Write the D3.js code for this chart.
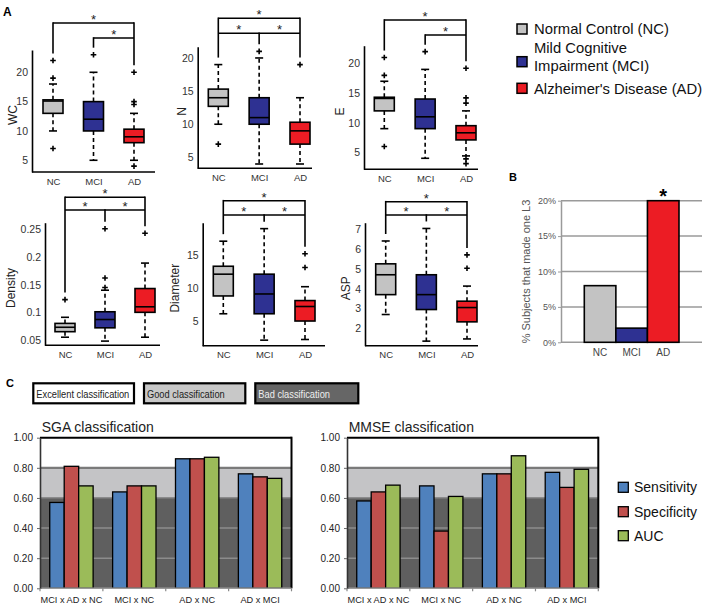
<!DOCTYPE html>
<html><head><meta charset="utf-8">
<script src="https://cdn.jsdelivr.net/npm/d3@7"></script>
<style>
html,body{margin:0;padding:0;background:#fff;}
svg{display:block;}
</style></head><body>
<svg id="chart" width="708" height="605"></svg>
<script>
// ---------------- DATA ----------------
const groups = ["NC", "MCI", "AD"];
const legendLines = [["Normal Control (NC)"], ["Mild Cognitive", "Impairment (MCI)"], ["Alzheimer's Disease (AD)"]];

const wcBoxes = [
  {q1: 13, median: 15.1, q3: 15.3, low: 10, high: 18, outliers: [22, 19, 7]},
  {q1: 10, median: 12, q3: 15, low: 5, high: 20, outliers: [23]},
  {q1: 8, median: 9, q3: 10.3, low: 5, high: 13, outliers: [20, 15, 14.5, 4]}
];
const nBoxes = [
  {q1: 12.7, median: 14, q3: 15.3, low: 10, high: 19, outliers: [7]},
  {q1: 10, median: 11, q3: 14, low: 4, high: 20, outliers: [21]},
  {q1: 7, median: 9, q3: 10.3, low: 4, high: 14, outliers: [19]}
];
const eBoxes = [
  {q1: 12, median: 14.1, q3: 14.3, low: 9, high: 17, outliers: [21, 18, 6]},
  {q1: 9, median: 11, q3: 14, low: 4, high: 19, outliers: [22]},
  {q1: 7.1, median: 8.3, q3: 9.5, low: 4.4, high: 12, outliers: [19.2, 14.2, 13.3, 3.9, 3.1]}
];
const densityBoxes = [
  {q1: 0.065, median: 0.073, q3: 0.08, low: 0.055, high: 0.091, outliers: [0.123]},
  {q1: 0.072, median: 0.087, q3: 0.101, low: 0.048, high: 0.14, outliers: [0.251, 0.162, 0.145]},
  {q1: 0.1, median: 0.11, q3: 0.143, low: 0.055, high: 0.189, outliers: [0.243]}
];
const diameterBoxes = [
  {q1: 8.8, median: 12.1, q3: 13.3, low: 6.1, high: 17.1, outliers: []},
  {q1: 6.1, median: 9.1, q3: 12.1, low: 2.1, high: 19, outliers: []},
  {q1: 5, median: 7.2, q3: 8.1, low: 2.2, high: 10.2, outliers: [15.2, 13.1]}
];
const aspBoxes = [
  {q1: 3.7, median: 4.7, q3: 5.25, low: 2.7, high: 6.4, outliers: []},
  {q1: 2.95, median: 3.7, q3: 4.7, low: 1.36, high: 7.03, outliers: []},
  {q1: 2.33, median: 3.05, q3: 3.37, low: 1.47, high: 4.13, outliers: [5.03, 5.7]}
];
const wcTicks = [5, 10, 15, 20];
const nTicks = [5, 10, 15, 20];
const eTicks = [5, 10, 15, 20];
const densityTicks = [0.05, 0.1, 0.15, 0.2, 0.25];
const diameterTicks = [5, 10, 15];
const aspTicks = [2, 3, 4, 5, 6, 7];

// significance brackets (group index pairs, bracket row)
const sigTwo = [{a: 0, b: 2, row: 0}, {a: 1, b: 2, row: 1}];
const sigThree = [{a: 0, b: 2, row: 0}, {a: 0, b: 1, row: 1}, {a: 1, b: 2, row: 1}];

const l3Percent = [0.08, 0.02, 0.20];
const l3Ticks = [0, 0.05, 0.10, 0.15, 0.20];

const comparisons = ["MCI x AD x NC", "MCI x NC", "AD x NC", "AD x MCI"];
const metrics = ["Sensitivity", "Specificity", "AUC"];
const sgaSensitivity = [0.57, 0.64, 0.86, 0.76];
const sgaSpecificity = [0.81, 0.68, 0.86, 0.74];
const sgaAUC = [0.68, 0.68, 0.87, 0.73];
const mmseSensitivity = [0.58, 0.68, 0.76, 0.77];
const mmseSpecificity = [0.64, 0.38, 0.76, 0.67];
const mmseAUC = [0.685, 0.61, 0.88, 0.79];
const classTicks = [0, 0.2, 0.4, 0.6, 0.8, 1.0];
const qualityLabels = ["Excellent classification", "Good classification", "Bad classification"];
const qualityFrom = [0.8, 0.6, 0];
const qualityTo = [1.0, 0.8, 0.6];

// ---------------- STYLE ----------------
const FONT = '"Liberation Sans", Arial, Helvetica, sans-serif';
const groupColors = ["#c3c3c3", "#2e3192", "#ec1c24"];
const metricColors = ["#4f81bd", "#c0504d", "#9bbb59"];
const qualityColors = ["#ffffff", "#c4c4c6", "#5f5f5f"];

const svg = d3.select("#chart").attr("font-family", FONT);

// panel letters
svg.append("text").attr("x", 3).attr("y", 16).attr("font-size", 12).attr("font-weight", "bold").text("A");
svg.append("text").attr("x", 509).attr("y", 181).attr("font-size", 11).attr("font-weight", "bold").text("B");
svg.append("text").attr("x", 6).attr("y", 387).attr("font-size", 11).attr("font-weight", "bold").text("C");

// ---------------- PANEL A: box plots ----------------
const boxLayouts = [
  {data: wcBoxes, ticks: wcTicks, label: "WC", sig: sigTwo, axisX: 32, xEnd: 155, yTop: 50, yBottom: 172, domain: [3.0, 23.8], cat: [53, 134], labelX: 13, rows: [23, 38]},
  {data: nBoxes, ticks: nTicks, label: "N", sig: sigThree, axisX: 197.7, xEnd: 312, yTop: 46.7, yBottom: 168.3, domain: [3.35, 21.7], cat: [218.3, 300], labelX: 182, rows: [18.3, 33.3]},
  {data: eBoxes, ticks: eTicks, label: "E", sig: sigTwo, axisX: 364, xEnd: 478, yTop: 45.7, yBottom: 169.3, domain: [2.14, 23], cat: [384.3, 466], labelX: 340, rows: [20, 35]},
  {data: densityBoxes, ticks: densityTicks, label: "Density", sig: sigThree, axisX: 45, xEnd: 160, yTop: 222.7, yBottom: 345.3, domain: [0.0404, 0.262], cat: [65, 145], labelX: 11, rows: [197.3, 210]},
  {data: diameterBoxes, ticks: diameterTicks, label: "Diameter", sig: sigThree, axisX: 202.7, xEnd: 325, yTop: 222.7, yBottom: 345.7, domain: [1.26, 19.9], cat: [223.3, 305], labelX: 175, rows: [200.7, 215]},
  {data: aspBoxes, ticks: aspTicks, label: "ASP", sig: sigThree, axisX: 365, xEnd: 478, yTop: 222.7, yBottom: 345.7, domain: [1.13, 7.32], cat: [385.7, 467], labelX: 346, rows: [201.7, 215]}
];

boxLayouts.forEach(cfg => {
  const g = svg.append("g");
  const y = d3.scaleLinear().domain(cfg.domain).range([cfg.yBottom, cfg.yTop]);
  const x = d3.scalePoint().domain(groups).range(cfg.cat);

  const ya = g.append("g").attr("transform", `translate(${cfg.axisX},0)`)
    .call(d3.axisLeft(y).tickValues(cfg.ticks).tickSize(0).tickSizeOuter(0).tickPadding(4).tickFormat(d => String(d)));
  ya.attr("font-family", FONT).attr("font-size", 10.5);
  ya.select(".domain").attr("stroke", "#000").attr("stroke-width", 1.6);
  ya.selectAll("text").attr("fill", "#333");

  const xa = g.append("g").attr("transform", `translate(0,${cfg.yBottom})`)
    .call(d3.axisBottom(x).tickSize(0).tickPadding(6));
  xa.attr("font-family", FONT).attr("font-size", 9.5);
  xa.select(".domain").remove();
  xa.selectAll("text").attr("fill", "#333");
  g.append("line").attr("x1", cfg.axisX).attr("x2", cfg.xEnd).attr("y1", cfg.yBottom).attr("y2", cfg.yBottom)
    .attr("stroke", "#000").attr("stroke-width", 1.6);

  g.append("text").attr("transform", `translate(${cfg.labelX},${(cfg.yTop + cfg.yBottom) / 2 + 4}) rotate(-90)`)
    .attr("text-anchor", "middle").attr("dominant-baseline", "central").attr("font-size", 12).attr("fill", "#222").text(cfg.label);

  cfg.data.forEach((d, i) => {
    const cx = x(groups[i]);
    g.append("line").attr("x1", cx).attr("x2", cx).attr("y1", y(d.q3)).attr("y2", y(d.high))
      .attr("stroke", "#000").attr("stroke-width", 1.6).attr("stroke-dasharray", "4,3");
    g.append("line").attr("x1", cx).attr("x2", cx).attr("y1", y(d.q1)).attr("y2", y(d.low))
      .attr("stroke", "#000").attr("stroke-width", 1.6).attr("stroke-dasharray", "4,3");
    [d.high, d.low].forEach(v => {
      g.append("line").attr("x1", cx - 4).attr("x2", cx + 4).attr("y1", y(v)).attr("y2", y(v))
        .attr("stroke", "#000").attr("stroke-width", 1.6);
    });
    g.append("rect").attr("x", cx - 10).attr("width", 20).attr("y", y(d.q3)).attr("height", y(d.q1) - y(d.q3))
      .attr("fill", groupColors[i]).attr("stroke", "#000").attr("stroke-width", 1.6);
    g.append("line").attr("x1", cx - 10).attr("x2", cx + 10).attr("y1", y(d.median)).attr("y2", y(d.median))
      .attr("stroke", "#000").attr("stroke-width", 1.6);
    d.outliers.forEach(v => {
      const yy = y(v);
      g.append("path").attr("d", `M${cx - 2.8},${yy}H${cx + 2.8}M${cx},${yy - 2.8}V${yy + 2.8}`)
        .attr("stroke", "#000").attr("stroke-width", 1.6);
    });
  });

  const colTop = cfg.data.map(d => y(d3.max([d.high, d.q3].concat(d.outliers))) - 7);
  const legStart = [Infinity, Infinity, Infinity];
  cfg.sig.forEach(s => {
    const ly = cfg.rows[s.row];
    g.append("line").attr("x1", x(groups[s.a])).attr("x2", x(groups[s.b])).attr("y1", ly).attr("y2", ly)
      .attr("stroke", "#000").attr("stroke-width", 1.6);
    g.append("text").attr("x", (x(groups[s.a]) + x(groups[s.b])) / 2).attr("y", ly + 1)
      .attr("text-anchor", "middle").attr("font-size", 13).attr("fill", "#222").text("*");
    legStart[s.a] = Math.min(legStart[s.a], ly);
    legStart[s.b] = Math.min(legStart[s.b], ly);
  });
  legStart.forEach((ls, i) => {
    if (ls === Infinity) return;
    const cx = x(groups[i]);
    g.append("line").attr("x1", cx).attr("x2", cx).attr("y1", ls - 0.8).attr("y2", colTop[i])
      .attr("stroke", "#000").attr("stroke-width", 1.6);
  });
});

// legend A
const legA = svg.append("g");
const legSquareY = [24, 56.7, 83.3];
const legTextY = [[34], [53, 70.5], [93.5]];
groups.forEach((gname, i) => {
  legA.append("rect").attr("x", 517).attr("y", legSquareY[i]).attr("width", 10).attr("height", 10)
    .attr("fill", groupColors[i]).attr("stroke", "#000").attr("stroke-width", 1.5);
  legendLines[i].forEach((ln, j) => {
    legA.append("text").attr("x", 534).attr("y", legTextY[i][j]).attr("font-size", 14.8).attr("fill", "#111").text(ln);
  });
});

// ---------------- PANEL B ----------------
(function () {
  const g = svg.append("g");
  const left = 561, right = 702;
  const y = d3.scaleLinear().domain([0, 0.20]).range([342.3, 200.7]);
  const x = d3.scaleBand().domain(groups).range([584.3, 679]).padding(0);
  l3Ticks.slice(1).forEach(t => {
    g.append("line").attr("x1", left).attr("x2", right).attr("y1", y(t)).attr("y2", y(t))
      .attr("stroke", "#9a9a9a").attr("stroke-width", 1.5);
  });
  const ya = g.append("g").attr("transform", `translate(${left},0)`)
    .call(d3.axisLeft(y).tickValues(l3Ticks).tickFormat(d3.format(".0%")).tickSize(3).tickSizeOuter(0).tickPadding(2));
  ya.attr("font-family", FONT).attr("font-size", 9);
  ya.select(".domain").attr("stroke", "#9a9a9a").attr("stroke-width", 1.5);
  ya.selectAll(".tick line").attr("stroke", "#9a9a9a");
  ya.selectAll("text").attr("fill", "#555");
  g.append("line").attr("x1", left).attr("x2", right).attr("y1", y(0)).attr("y2", y(0))
    .attr("stroke", "#9a9a9a").attr("stroke-width", 1.5);
  g.selectAll("rect.bar").data(l3Percent).join("rect").attr("class", "bar")
    .attr("x", (d, i) => x(groups[i])).attr("width", x.bandwidth())
    .attr("y", d => y(d)).attr("height", d => y(0) - y(d))
    .attr("fill", (d, i) => groupColors[i]).attr("stroke", "#000").attr("stroke-width", 1.6);
  const xa = g.append("g").attr("transform", `translate(0,${y(0)})`)
    .call(d3.axisBottom(x).tickSize(0).tickPadding(7));
  xa.attr("font-family", FONT).attr("font-size", 10);
  xa.select(".domain").remove();
  xa.selectAll("text").attr("fill", "#444");
  g.append("text").attr("x", x("AD") + x.bandwidth() / 2).attr("y", 203).attr("text-anchor", "middle")
    .attr("font-size", 20).attr("font-weight", "bold").text("*");
  g.append("text").attr("transform", `translate(526,${(y(0) + y(0.2)) / 2}) rotate(-90)`)
    .attr("text-anchor", "middle").attr("dominant-baseline", "central").attr("font-size", 11).attr("fill", "#555")
    .text("% Subjects that made one L3");
})();

// ---------------- PANEL C ----------------
const qualityBoxX = [33.3, 144, 255.3];
const qualityBoxW = [100.7, 101.3, 103];
const qualityTextW = [93, 77.7, 71.7];
const qualityBoxFill = ["#ffffff", "#c8c8c8", "#666666"];
const qualityTextFill = ["#222", "#222", "#eeeeee"];
qualityLabels.forEach((lab, i) => {
  svg.append("rect").attr("x", qualityBoxX[i]).attr("y", 383.3).attr("width", qualityBoxW[i]).attr("height", 20)
    .attr("fill", qualityBoxFill[i]).attr("stroke", "#000").attr("stroke-width", 2.2);
  svg.append("text").attr("x", qualityBoxX[i] + 3).attr("y", 397.5).attr("font-size", 11)
    .attr("textLength", qualityTextW[i]).attr("lengthAdjust", "spacingAndGlyphs")
    .attr("fill", qualityTextFill[i]).text(lab);
});

function drawClassChart(title, x0, x1, seriesList) {
  const g = svg.append("g");
  const y = d3.scaleLinear().domain([0, 1]).range([588.3, 437.7]);
  const xg = d3.scaleBand().domain(comparisons).range([x0, x1]).paddingInner(0.31).paddingOuter(0.155);
  const xm = d3.scaleBand().domain(metrics).range([0, xg.bandwidth()]);

  qualityLabels.forEach((lab, i) => {
    g.append("rect").attr("x", x0).attr("width", x1 - x0).attr("y", y(qualityTo[i]))
      .attr("height", y(qualityFrom[i]) - y(qualityTo[i])).attr("fill", qualityColors[i]);
  });
  classTicks.slice(1, 5).forEach(t => {
    g.append("line").attr("x1", x0).attr("x2", x1).attr("y1", y(t)).attr("y2", y(t))
      .attr("stroke", t >= 0.6 ? "#7a7a7a" : "#8c8c8c").attr("stroke-width", t === 0.8 ? 2.2 : 1.6);
  });

  comparisons.forEach((c, ci) => {
    metrics.forEach((m, mi) => {
      const v = seriesList[mi][ci];
      g.append("rect").attr("x", xg(c) + xm(m)).attr("width", xm.bandwidth()).attr("y", y(v))
        .attr("height", y(0) - y(v)).attr("fill", metricColors[mi]).attr("stroke", "#000").attr("stroke-width", 1.3);
    });
  });

  g.append("line").attr("x1", x0).attr("x2", x1).attr("y1", y(1)).attr("y2", y(1)).attr("stroke", "#000").attr("stroke-width", 2);
  g.append("line").attr("x1", x1).attr("x2", x1).attr("y1", y(1) - 1).attr("y2", y(0)).attr("stroke", "#000").attr("stroke-width", 2);
  g.append("line").attr("x1", x0).attr("x2", x1).attr("y1", y(0)).attr("y2", y(0)).attr("stroke", "#999").attr("stroke-width", 1.6);

  const ya = g.append("g").attr("transform", `translate(${x0},0)`)
    .call(d3.axisLeft(y).tickValues(classTicks).tickFormat(d3.format(".2f")).tickSize(3).tickSizeOuter(0).tickPadding(4));
  ya.attr("font-family", FONT).attr("font-size", 10);
  ya.select(".domain").attr("stroke", "#333").attr("stroke-width", 1.6);
  ya.selectAll(".tick line").attr("stroke", "#666");
  ya.selectAll("text").attr("fill", "#222");

  for (let i = 0; i <= comparisons.length; i++) {
    const bx = x0 + i * (x1 - x0) / comparisons.length;
    g.append("line").attr("x1", bx).attr("x2", bx).attr("y1", y(0)).attr("y2", y(0) + 3).attr("stroke", "#888").attr("stroke-width", 1.2);
  }
  const xa = g.append("g").attr("transform", `translate(0,${y(0)})`)
    .call(d3.axisBottom(xg).tickSize(0).tickPadding(8));
  xa.attr("font-family", FONT).attr("font-size", 9.2);
  xa.select(".domain").remove();
  xa.selectAll("text").attr("fill", "#222");

  g.append("text").attr("x", x0 + 1.7).attr("y", 431.5).attr("font-size", 14).attr("fill", "#222").text(title);
}

drawClassChart("SGA classification", 40, 291.5, [sgaSensitivity, sgaSpecificity, sgaAUC]);
drawClassChart("MMSE classification", 347, 598.3, [mmseSensitivity, mmseSpecificity, mmseAUC]);

// legend C
const legCY = [487.3, 511.7, 535.7];
metrics.forEach((m, i) => {
  svg.append("rect").attr("x", 618.3).attr("y", legCY[i] - 5).attr("width", 10).attr("height", 10)
    .attr("fill", metricColors[i]).attr("stroke", "#000").attr("stroke-width", 1.3);
  svg.append("text").attr("x", 634).attr("y", legCY[i] + 5).attr("font-size", 14).attr("fill", "#111").text(m);
});
</script>
</body></html>
